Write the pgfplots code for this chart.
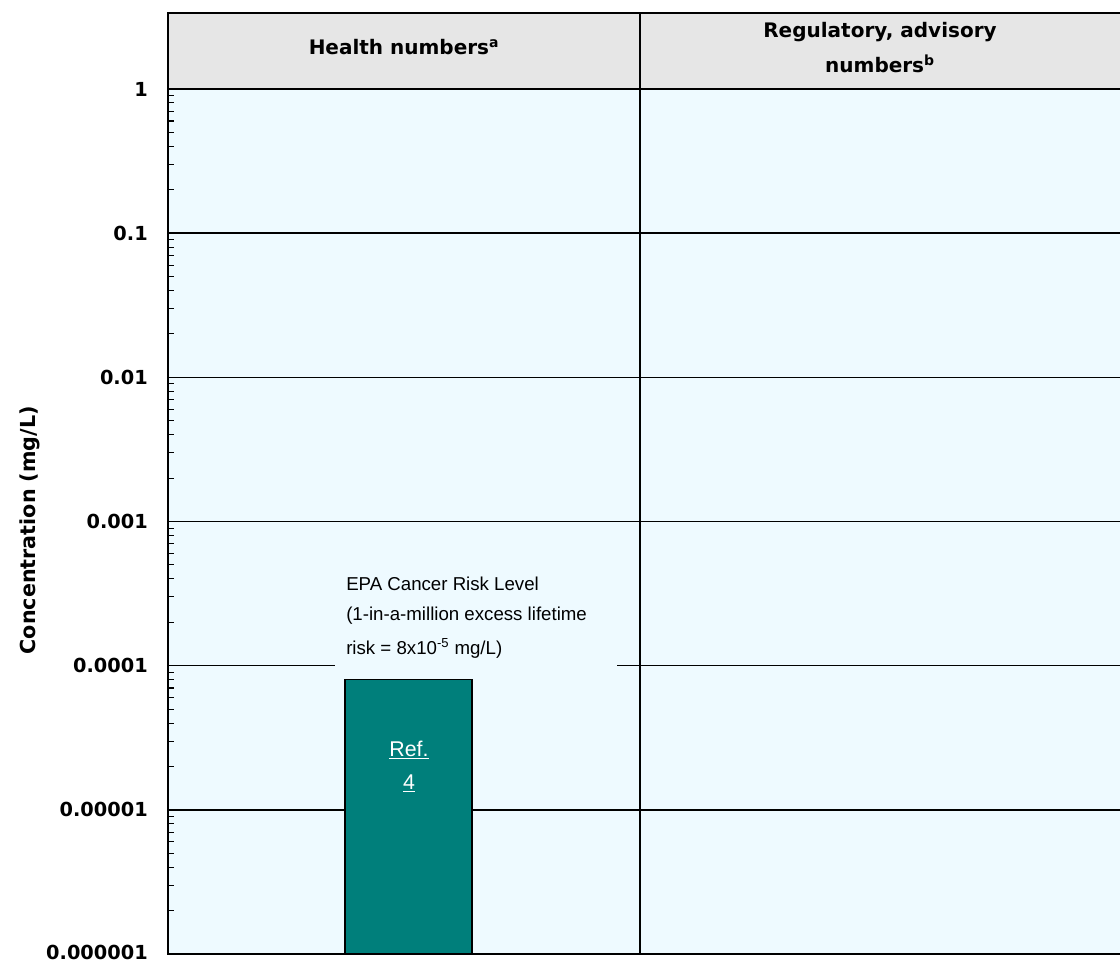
\documentclass[border=0pt]{standalone}
\usepackage{pgfplots}
\pgfplotsset{compat=1.18}
\usepackage{fontspec}
\setmainfont{DejaVu Sans}
\newfontfamily\lab{Liberation Sans}
\definecolor{bgblue}{HTML}{EEFAFF}
\definecolor{hdrgray}{HTML}{E6E6E6}
\definecolor{barteal}{HTML}{007F7B}
\begin{document}
\begin{tikzpicture}[x=0.75pt,y=0.75pt]
\begin{axis}[
  at={(0,0)}, anchor=south west,
  scale only axis,
  width=721.5pt, height=648.75pt,
  xmin=0, xmax=962,
  ymode=log, ymin=1e-6, ymax=1,
  log origin y=infty,
  axis background/.style={fill=bgblue},
  axis line style={line width=1.4pt},
  xtick=\empty,
  ytick={1e-6,1e-5,1e-4,1e-3,1e-2,1e-1,1},
  yticklabels={\raisebox{2.5pt}{0.000001},0.00001,0.0001,0.001,0.01,0.1,1},
  ytick pos=left,
  ymajorgrids,
  major grid style={black, line width=1.1pt},
  major tick length=0pt,
  minor tick length=4.5pt,
  minor tick style={line width=0.8pt, black},
  tick align=inside,
  yticklabel style={font=\fontsize{14.5}{16}\selectfont\bfseries, inner sep=0pt, xshift=-15pt},
  /pgf/number format/assume math mode=true,
  ylabel={Concentration (mg/L)},
  every axis y label/.style={at={(axis description cs:-0.1435,0.49)},rotate=90,anchor=center,font=\fontsize{15.5}{17}\selectfont\bfseries},
  clip=false,
]
\addplot[ybar, bar width=95.25pt, fill=barteal, draw=black, line width=1pt] coordinates {(240.5,8e-5)};
\end{axis}
% header
\draw[line width=1.2pt, fill=hdrgray] (0,865) rectangle (980,941);
\draw[line width=1.2pt] (472,0) -- (472,941);
\node[font=\fontsize{15}{17}\selectfont\bfseries] at (236,907) {Health numbers\textsuperscript{a}};
\node[font=\fontsize{15}{17}\selectfont\bfseries] at (712,922) {Regulatory, advisory};
\node[font=\fontsize{15}{17}\selectfont\bfseries] at (712,890) {numbers\textsuperscript{b}};
% label with cover of grid line
\fill[bgblue] (167,283) rectangle (449,295);
\node[font=\lab\fontsize{14}{16}\selectfont, anchor=west, inner sep=0pt] at (178,370) {EPA Cancer Risk Level};
\node[font=\lab\fontsize{14}{16}\selectfont, anchor=west, inner sep=0pt] at (178,338) {(1-in-a-million excess lifetime};
\node[font=\lab\fontsize{14}{16}\selectfont, anchor=west, inner sep=0pt] at (178,306) {risk = 8x10\textsuperscript{-5} mg/L)};
\node[font=\lab\fontsize{16}{18}\selectfont, text=white] at (241,204) {\underline{Ref.}};
\node[font=\lab\fontsize{16}{18}\selectfont, text=white] at (241,171) {\underline{4}};
\pgfresetboundingbox
\useasboundingbox (-168,-8) rectangle (952,954);
\end{tikzpicture}
\end{document}
